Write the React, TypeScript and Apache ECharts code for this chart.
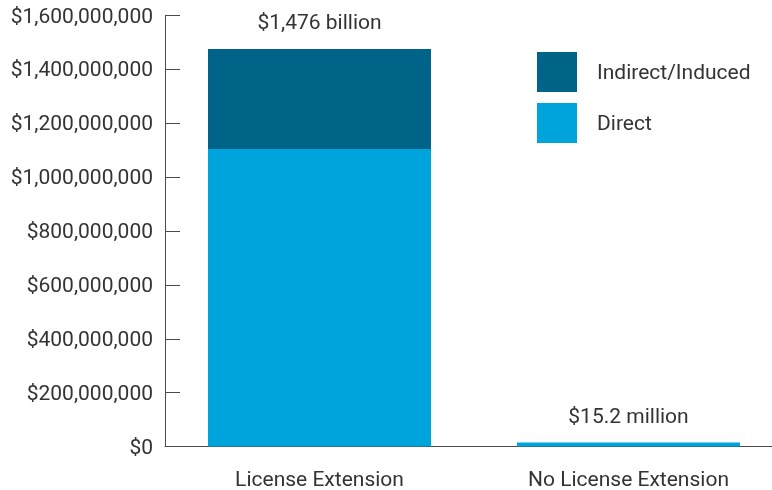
import React, { useEffect, useRef } from "react";
import * as echarts from "echarts";

const categories = ["License Extension", "No License Extension"];
const directValues = [1104000000, 15200000];
const indirectValues = [372000000, 0];
const totalLabels = ["$1,476 billion", "$15.2 million"];
const yTicks = { min: 0, max: 1600000000, interval: 200000000 };

const FONT = "Roboto";
const TEXT_COLOR = "#333333";
const AXIS_COLOR = "#4a4a4a";
const FS = 21;

function fmt(v: number): string {
  const s = Math.round(v).toString().replace(/\B(?=(\d{3})+(?!\d))/g, ",");
  return "$" + s;
}

export default function App() {
  const ref = useRef<HTMLDivElement>(null);
  useEffect(() => {
    if (!ref.current) return;
    const chart = echarts.init(ref.current, undefined, { renderer: "svg" });
    const totals = directValues.map((d, i) => d + indirectValues[i]);
    chart.setOption({
      animation: false,
      textStyle: { fontFamily: FONT },
      grid: { left: 165, width: 618, top: 15.5, bottom: 43.5, containLabel: false, outerBoundsMode: "none" },
      legend: {
        orient: "vertical",
        left: 537,
        top: 52,
        padding: 0,
        itemWidth: 40,
        itemHeight: 40,
        itemGap: 11,
        icon: "rect",
        data: ["Indirect/Induced", "Direct"],
        textStyle: { fontFamily: FONT, fontSize: FS, color: TEXT_COLOR, padding: [2, 0, 0, 15] },
      },
      xAxis: {
        type: "category",
        data: categories,
        axisLine: { lineStyle: { color: AXIS_COLOR, width: 1 } },
        axisTick: { inside: true, length: 10, lineStyle: { color: AXIS_COLOR } },
        axisLabel: { fontFamily: FONT, fontSize: FS, color: TEXT_COLOR, margin: 22 },
      },
      yAxis: {
        type: "value",
        min: yTicks.min,
        max: yTicks.max,
        interval: yTicks.interval,
        axisLine: { show: true, lineStyle: { color: AXIS_COLOR, width: 1 } },
        axisTick: { show: true, inside: true, length: 15, lineStyle: { color: AXIS_COLOR } },
        splitLine: { show: false },
        axisLabel: { fontFamily: FONT, fontSize: FS, color: TEXT_COLOR, margin: 12, formatter: (v: number) => fmt(v) },
      },
      series: [
        {
          name: "Direct",
          type: "bar",
          stack: "total",
          barWidth: 223,
          data: directValues,
          itemStyle: { color: "#00a4dc" },
        },
        {
          name: "Indirect/Induced",
          type: "bar",
          stack: "total",
          barWidth: 223,
          data: indirectValues,
          itemStyle: { color: "#006388" },
        },
        {
          name: "labels",
          type: "scatter",
          data: totals.map((t, i) => ({ value: [i, t], label: { formatter: totalLabels[i] } })),
          symbolSize: 0,
          silent: true,
          itemStyle: { opacity: 1 },
          label: {
            show: true,
            position: "top",
            distance: 16,
            fontFamily: FONT,
            fontSize: FS,
            color: TEXT_COLOR,
          },
        },
      ],
    });
    return () => chart.dispose();
  }, []);
  return <div ref={ref} style={{ width: 772, height: 490, position: "fixed", left: 0, top: 0 }} />;
}
